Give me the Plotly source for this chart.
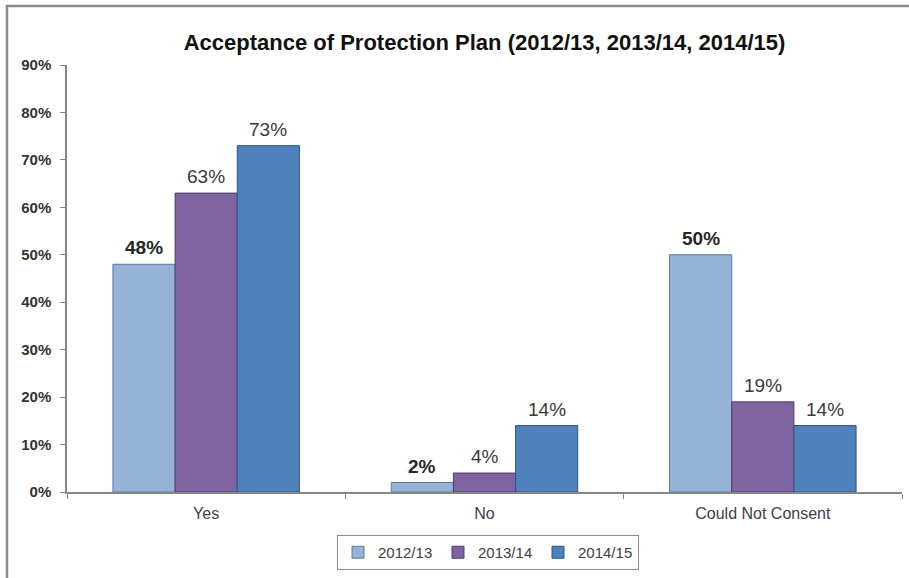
import plotly.graph_objects as go

# Chart data
categories = ["Yes", "No", "Could Not Consent"]
series_names = ["2012/13", "2013/14", "2014/15"]
values_2012_13 = [48, 2, 50]
values_2013_14 = [63, 4, 19]
values_2014_15 = [73, 14, 14]
y_tick_values = [0, 10, 20, 30, 40, 50, 60, 70, 80, 90]
y_tick_labels = [f"{v}%" for v in y_tick_values]

series_values = [values_2012_13, values_2013_14, values_2014_15]
fill_colors = ["#95B3D7", "#8064A2", "#4F81BD"]
edge_colors = ["#5E7A9E", "#4E3B66", "#2F5486"]
label_bold = [True, False, False]

FONT = "Liberation Sans, Arial, sans-serif"
W, H = 909, 578
L, R, T, B = 67, 7, 65, 86
plot_w = W - L - R
plot_h = H - T - B
BARGAP = 0.33

fig = go.Figure()
for name, vals, fc, ec in zip(series_names, series_values, fill_colors, edge_colors):
    fig.add_trace(go.Bar(
        name=name,
        x=categories,
        y=vals,
        marker=dict(color=fc, line=dict(color=ec, width=1)),
    ))

# value labels above each bar, offset to each series' slot in the group
slot = (1 - BARGAP) / len(series_names)
annotations = []
for i, (vals, bold) in enumerate(zip(series_values, label_bold)):
    offset = (i - (len(series_names) - 1) / 2) * slot
    for j, v in enumerate(vals):
        txt = f"{v}%"
        annotations.append(dict(
            x=j + offset, y=v, xref="x", yref="y",
            text=f"<b>{txt}</b>" if bold else txt,
            showarrow=False, yanchor="bottom", xanchor="center", yshift=4,
            font=dict(family=FONT, size=19, color="#262626" if bold else "#3a3a3a"),
        ))


def px_x(px):
    return (px - L) / plot_w


def px_y(py):
    return (H - B - py) / plot_h


fig.update_layout(
    width=W,
    height=H,
    margin=dict(l=L, r=R, t=T, b=B),
    paper_bgcolor="white",
    plot_bgcolor="white",
    barmode="group",
    bargap=BARGAP,
    bargroupgap=0,
    title=dict(
        text="<b>Acceptance of Protection Plan (2012/13, 2013/14, 2014/15)</b>",
        font=dict(family=FONT, size=22, color="#111111"),
        x=0.5, xref="paper", xanchor="center",
        y=1 - 42 / H, yref="container", yanchor="middle",
    ),
    font=dict(family=FONT, color="#404040"),
    showlegend=True,
    legend=dict(
        orientation="h",
        x=px_x(488), xanchor="center",
        y=px_y(535), yanchor="top",
        bordercolor="#8c8c8c",
        borderwidth=1,
        bgcolor="white",
        font=dict(family=FONT, size=15, color="#404040"),
        itemwidth=30,
        entrywidth=55,
        entrywidthmode="pixels",
        traceorder="normal",
    ),
    xaxis=dict(
        type="category",
        showline=True,
        linecolor="#868686",
        linewidth=1.5,
        ticks="outside",
        tickson="boundaries",
        ticklen=5,
        tickcolor="#868686",
        ticklabelstandoff=6,
        tickfont=dict(family=FONT, size=16, color="#404040"),
        showgrid=False,
        zeroline=False,
    ),
    yaxis=dict(
        range=[0, 90],
        tickvals=y_tick_values,
        ticktext=y_tick_labels,
        showline=True,
        linecolor="#868686",
        linewidth=1.5,
        ticks="outside",
        ticklen=5,
        tickcolor="#868686",
        ticklabelstandoff=6,
        tickfont=dict(family=FONT, size=15, color="#333333", weight="bold"),
        showgrid=False,
        zeroline=False,
    ),
    annotations=annotations,
    shapes=[
        # chart frame: top and left edges
        dict(type="line", xref="paper", yref="paper",
             x0=px_x(6), x1=px_x(W + 5), y0=px_y(6), y1=px_y(6),
             line=dict(color="#8a8a8a", width=2.5)),
        dict(type="line", xref="paper", yref="paper",
             x0=px_x(7), x1=px_x(7), y0=px_y(5), y1=px_y(H + 5),
             line=dict(color="#8a8a8a", width=2.5)),
    ],
)

fig.write_html("out.html")
